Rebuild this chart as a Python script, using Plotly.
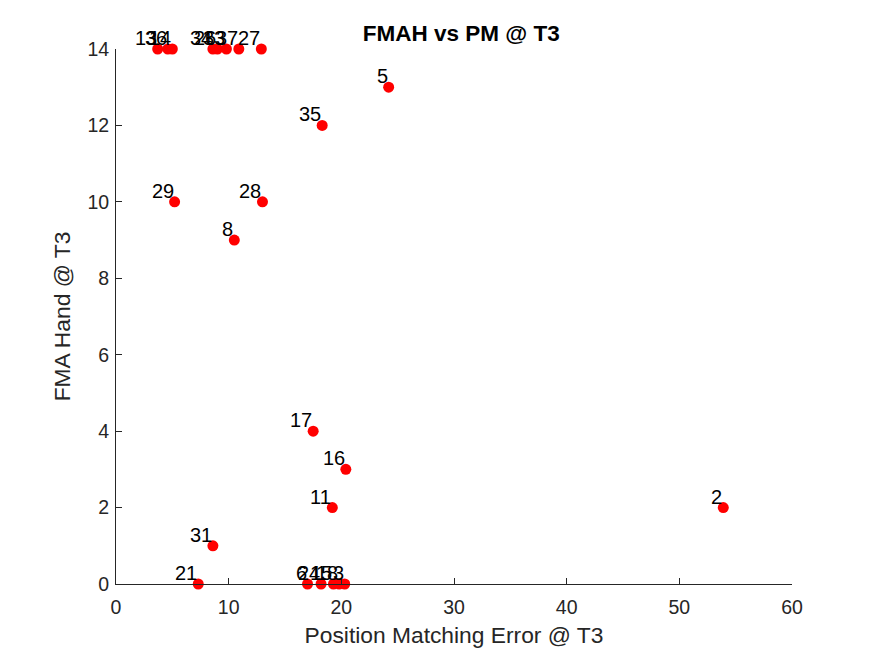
import plotly.graph_objects as go

pm_error = [3.7, 4.6, 5.0, 8.6, 9.0, 9.8, 10.9, 12.9,
            24.2, 18.3, 5.2, 13.0, 10.5, 17.5, 20.4, 19.2, 53.9, 8.6, 7.3,
            17.0, 18.2, 19.3, 19.8, 20.3]
fma_hand = [14, 14, 14, 14, 14, 14, 14, 14,
            13, 12, 10, 10, 9, 4, 3, 2, 2, 1, 0,
            0, 0, 0, 0, 0]
subject_ids = ["13", "36", "14", "34", "26", "33", "37", "27",
               "5", "35", "29", "28", "8", "17", "16", "11", "2", "31", "21",
               "6", "24", "15", "18", "3"]

x_ticks = [0, 10, 20, 30, 40, 50, 60]
y_ticks = [0, 2, 4, 6, 8, 10, 12, 14]

font = "Liberation Sans, Arial, sans-serif"

fig = go.Figure(go.Scatter(
    x=pm_error, y=fma_hand, mode="markers",
    marker=dict(color="red", size=11, line=dict(width=0)),
    cliponaxis=False, showlegend=False,
))

for xv, yv, lab in zip(pm_error, fma_hand, subject_ids):
    fig.add_annotation(x=xv, y=yv, text=lab, showarrow=False,
                       xanchor="right", yanchor="bottom", xshift=1, yshift=-2,
                       font=dict(family=font, size=20, color="black"))

axis_common = dict(
    showgrid=False, zeroline=False, showline=True, linecolor="#262626", linewidth=1,
    ticks="inside", ticklen=6, tickcolor="#262626",
    tickfont=dict(family=font, size=19.5, color="#262626"),
    title_font=dict(family=font, size=22.8, color="#262626"),
)

fig.update_layout(
    width=875, height=656,
    margin=dict(l=108, r=91, t=41, b=80),
    paper_bgcolor="white", plot_bgcolor="white",
    title=dict(text="<b>FMAH vs PM @ T3</b>", x=0.518, xanchor="center",
               y=0.962, yanchor="middle",
               font=dict(family=font, size=22.5, color="black")),
    xaxis=dict(range=[0, 60], tickvals=x_ticks, title_text="Position Matching Error @ T3",
               ticklabelstandoff=6, title_standoff=9, **axis_common),
    yaxis=dict(range=[0, 14], tickvals=y_ticks, title_text="FMA Hand @ T3",
               ticklabelstandoff=2, title_standoff=10, **axis_common),
)

fig.write_html("out.html")
